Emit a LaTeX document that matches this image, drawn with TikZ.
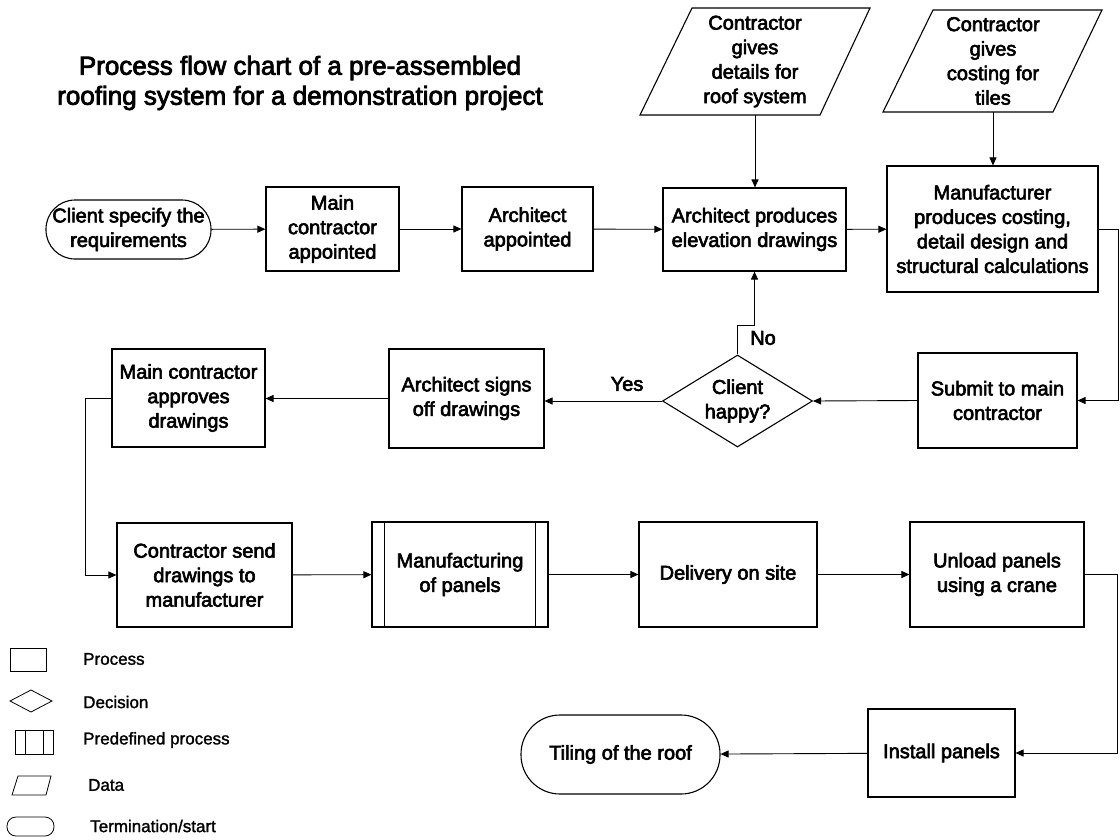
\documentclass[tikz,border=0pt]{standalone}
\usepackage{fontspec}
\setmainfont{Liberation Sans}
\newfontfamily\heavyfont{Liberation Sans}[FakeBold=3]
\newfontfamily\legendfont{Liberation Sans}[FakeBold=1.5]
\usetikzlibrary{shapes.geometric,arrows.meta}
\begin{document}
\begin{tikzpicture}[x=1pt,y=-1pt,
  every node/.style={font=\heavyfont\fontsize{20}{24.5}\selectfont, align=center, inner sep=0pt},
  proc/.style={draw, line width=1.1pt, rectangle},
  term/.style={draw, line width=1.1pt, rectangle, rounded corners=#1},
  datatext/.style={minimum width=120pt},
  dataedge/.style={draw, line width=1.1pt, line join=miter},
  decide/.style={draw, line width=1.1pt, diamond, aspect=1.63},
  flow/.style={line width=0.9pt, -{Triangle[length=8pt,width=7pt]}},
  lbl/.style={font=\heavyfont\fontsize{20}{24}\selectfont},
  legshape/.style={draw, line width=0.8pt},
  legtext/.style={font=\legendfont\fontsize{17}{20}\selectfont, anchor=west}]
\useasboundingbox (0,0) rectangle (1120,839);

% title
\node[font=\heavyfont\fontsize{26}{30}\selectfont] (title) at (300,83)
  {Process flow chart of a pre-assembled\\roofing system for a demonstration project};

% top row
\node[term=29pt, minimum width=165pt, minimum height=59pt] (start) at (128.5,229.5)
  {Client specify the\\requirements};
\node[proc, minimum width=133pt, minimum height=84pt] (mca) at (332.5,229)
  {Main\\contractor\\appointed};
\node[proc, minimum width=131pt, minimum height=84pt] (aa) at (527.5,229)
  {Architect\\appointed};
\node[proc, minimum width=183pt, minimum height=83pt] (aped) at (754.5,229.5)
  {Architect produces\\elevation drawings};
\node[proc, minimum width=211pt, minimum height=126pt] (mfr) at (992.5,229)
  {Manufacturer\\produces costing,\\detail design and\\structural calculations};

% data inputs
\draw[dataedge] (640,115) -- (692,8) -- (870,8) -- (820,115) -- cycle;
\node[datatext, minimum height=107pt] (d1) at (755,61.5)
  {Contractor\\gives\\details for\\roof system};
\draw[dataedge] (883,112) -- (933,10) -- (1102,10) -- (1053,112) -- cycle;
\node[datatext, minimum height=102pt] (d2) at (993,61)
  {Contractor\\gives\\costing for\\tiles};

% second row
\node[proc, minimum width=159pt, minimum height=95pt] (submit) at (997.5,400.5)
  {Submit to main\\contractor};
\node[decide, minimum width=150pt, minimum height=92pt] (dec) at (737.5,401)
  {Client\\happy?};
\node[proc, minimum width=155pt, minimum height=99pt] (asign) at (466.5,398.5)
  {Architect signs\\off drawings};
\node[proc, minimum width=153pt, minimum height=98pt] (mcap) at (188.5,398)
  {Main contractor\\approves\\drawings};

% third row
\node[proc, minimum width=175pt, minimum height=104pt] (csend) at (204.5,575)
  {Contractor send\\drawings to\\manufacturer};
\node[proc, minimum width=176pt, minimum height=105pt] (mfg) at (460,574.5)
  {Manufacturing\\of panels};
\draw[line width=1.1pt] ([xshift=13pt]mfg.north west) -- ([xshift=13pt]mfg.south west);
\draw[line width=1.1pt] ([xshift=-13pt]mfg.north east) -- ([xshift=-13pt]mfg.south east);
\node[proc, minimum width=178pt, minimum height=105pt] (deliv) at (728,574.5)
  {Delivery on site};
\node[proc, minimum width=174pt, minimum height=105pt] (unload) at (997,574.5)
  {Unload panels\\using a crane};

% last row
\node[proc, minimum width=147pt, minimum height=88pt] (install) at (941.5,753)
  {Install panels};
\node[term=39pt, minimum width=199pt, minimum height=79pt] (tiling) at (620.5,754.5)
  {Tiling of the roof};

% connectors
\draw[flow] (start) -- (mca);
\draw[flow] (mca) -- (aa);
\draw[flow] (aa) -- (aped);
\draw[flow] (d1.south) -- (d1.south |- aped.north);
\draw[flow] (aped) -- (mfr);
\draw[flow] (d2.south) -- (d2.south |- mfr.north);
\draw[flow] (mfr.east) -- ++(20,0) |- (submit.east);
\draw[flow] (submit.west) -- (dec.east);
\draw[flow] (dec.west) -- (asign.east |- dec.west);
\draw[flow] (dec.north) -- ++(0,-29) -| (aped.south);
\draw[flow] (asign.west) -- (mcap.east |- asign.west);
\draw[flow] (mcap.west) -- ++(-26,0) |- (csend.west);
\draw[flow] (csend) -- (mfg);
\draw[flow] (mfg) -- (deliv);
\draw[flow] (deliv) -- (unload);
\draw[flow] (unload.east) -- ++(33,0) |- (install.east);
\draw[flow] (install) -- (tiling);

% branch labels
\node[lbl] (yes) at (627,384) {Yes};
\node[lbl] (no) at (763,338) {No};

% legend
\draw[legshape] (10,648) rectangle (46,671);
\node[legtext] (lproc) at (83,659) {Process};
\draw[legshape] (10,701) -- (31,690) -- (52,701) -- (31,712) -- cycle;
\node[legtext] (ldec) at (83,702) {Decision};
\draw[legshape] (15,730) rectangle (53,754);
\draw[legshape] (25,730) -- (25,754) (43,730) -- (43,754);
\node[legtext] (lpre) at (83,740) {Predefined process};
\draw[legshape] (12,795) -- (18,776) -- (51,776) -- (46,795) -- cycle;
\node[legtext] (ldata) at (88,785) {Data};
\draw[legshape, rounded corners=9pt] (7,817) rectangle (54,836);
\node[legtext] (lterm) at (90,826) {Termination/start};
\end{tikzpicture}
\end{document}
